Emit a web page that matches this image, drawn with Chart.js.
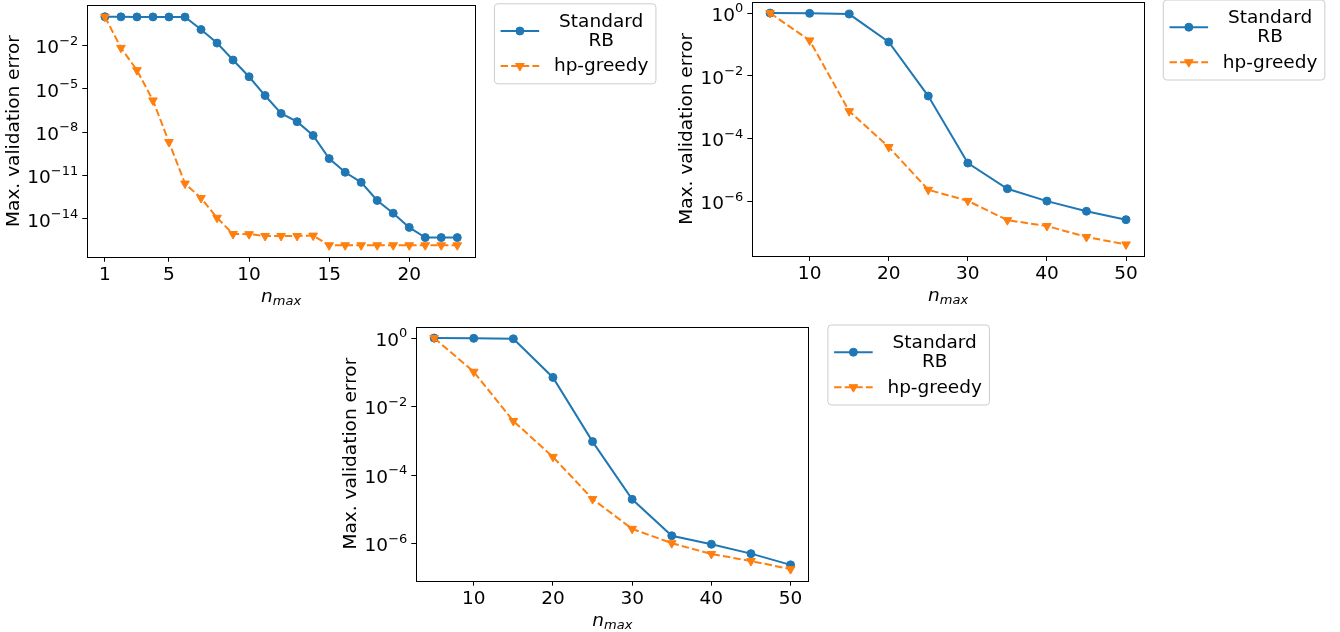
<!DOCTYPE html>
<html lang="en">
<head>
<meta charset="UTF-8">
<title>Max. validation error vs n_max</title>
<script src="https://cdn.jsdelivr.net/npm/chart.js"></script>
<style>
  body { margin: 0; background: #fff; width: 1340px; height: 632px; position: relative; overflow: hidden; }
  .panel { position: absolute; }
  .panel canvas { display: block; }
</style>
</head>
<body>
<div class="panel" style="left:0px;top:0px"><canvas id="chartA" width="670" height="315"></canvas></div>
<div class="panel" style="left:670px;top:0px"><canvas id="chartB" width="670" height="315"></canvas></div>
<div class="panel" style="left:330px;top:315px"><canvas id="chartC" width="670" height="317"></canvas></div>
<script>
// ---- data ----
const seriesLabels = ['Standard\nRB', 'hp-greedy'];
const yTitle = 'Max. validation error';
const xTitleBase = 'n';
const xTitleSub = 'max';

// panel A: n_max = 1..23
const nmaxA = [1, 2, 3, 4, 5, 6, 7, 8, 9, 10, 11, 12, 13, 14, 15, 16, 17, 18, 19, 20, 21, 22, 23];
const rbA = [1.0, 0.98, 0.97, 0.97, 0.96, 0.95, 0.13, 0.015, 1.0e-3, 7e-5, 3.5e-6, 2e-7, 5.4e-8, 6e-9,
             1.5e-10, 1.7e-11, 3.4e-12, 1.9e-13, 2.5e-14, 2.6e-15, 5.1e-16, 5.1e-16, 5.1e-16];
const hpA = [1.0, 7e-3, 2e-4, 1.6e-6, 2.1e-9, 2.8e-12, 2.8e-13, 1.2e-14, 9e-16, 8.8e-16, 6.6e-16, 6.6e-16,
             6.6e-16, 7e-16, 1.5e-16, 1.5e-16, 1.5e-16, 1.5e-16, 1.5e-16, 1.5e-16, 1.5e-16, 1.5e-16, 1.5e-16];
const xTicksA = [1, 5, 10, 15, 20];
const yExpA = [-2, -5, -8, -11, -14];

// panels B and C: n_max = 5..50
const nmaxB = [5, 10, 15, 20, 25, 30, 35, 40, 45, 50];
const rbB = [1.0, 0.98, 0.93, 0.12, 2.3e-3, 1.7e-5, 2.6e-6, 1.05e-6, 5e-7, 2.7e-7];
const hpB = [1.0, 0.135, 7.6e-4, 5.5e-5, 2.4e-6, 1.07e-6, 2.6e-7, 1.7e-7, 7.6e-8, 4.4e-8];
const rbC = [1.0, 0.98, 0.95, 0.071, 9.5e-4, 1.96e-5, 1.7e-6, 9.6e-7, 5.1e-7, 2.4e-7];
const hpC = [1.0, 0.104, 3.8e-3, 3.4e-4, 2e-5, 2.7e-6, 1.03e-6, 5e-7, 3.1e-7, 1.8e-7];
const xTicksB = [10, 20, 30, 40, 50];
const yExpB = [0, -2, -4, -6];

// ---- style ----
const BLUE = '#1f77b4';
const ORANGE = '#ff7f0e';
const FONT_PX = 18.5;
const SUP_PX = 13;
const FAMILY = '"DejaVu Sans"';

function fontOf(px, italic) {
    return (italic ? 'italic ' : '') + px + 'px ' + FAMILY;
}

// draws frame, tick labels, axis titles and the legend
const axisDecor = {
    id: 'axisDecor',
    afterDraw(chart) {
        const cfg = chart.options.plugins.axisDecor;
        const { ctx, chartArea: a, scales } = chart;
        ctx.save();
        ctx.strokeStyle = '#000';
        ctx.lineWidth = 1;
        ctx.setLineDash([]);
        ctx.strokeRect(Math.round(a.left) + 0.5, Math.round(a.top) + 0.5,
            Math.round(a.right) - Math.round(a.left), Math.round(a.bottom) - Math.round(a.top));

        ctx.fillStyle = '#000';
        ctx.textBaseline = 'alphabetic';

        // x tick labels
        ctx.font = fontOf(FONT_PX);
        ctx.textAlign = 'center';
        cfg.xTicks.forEach(v => {
            ctx.fillText(String(v), scales.x.getPixelForValue(v), a.bottom + 23.3);
        });

        // y tick labels as 10^e
        ctx.textAlign = 'left';
        let maxW = 0;
        cfg.yExps.forEach(e => {
            const y = scales.y.getPixelForValue(Math.pow(10, e));
            const sup = e < 0 ? '\u2212' + (-e) : String(e);
            ctx.font = fontOf(SUP_PX);
            const wSup = ctx.measureText(sup).width;
            ctx.font = fontOf(FONT_PX);
            const wBase = ctx.measureText('10').width;
            const right = a.left - 9;
            ctx.fillText('10', right - wSup - wBase, y + 7.6);
            ctx.font = fontOf(SUP_PX);
            ctx.fillText(sup, right - wSup, y - 0.8);
            maxW = Math.max(maxW, wBase + wSup);
        });

        // y title
        ctx.save();
        ctx.font = fontOf(FONT_PX);
        ctx.translate(a.left - 9 - maxW - 13, (a.top + a.bottom) / 2);
        ctx.rotate(-Math.PI / 2);
        ctx.textAlign = 'center';
        ctx.textBaseline = 'middle';
        ctx.fillText(yTitle, 0, 0);
        ctx.restore();

        // x title: italic n with subscript
        ctx.font = fontOf(FONT_PX, true);
        const wn = ctx.measureText(xTitleBase).width;
        ctx.font = fontOf(SUP_PX, true);
        const wm = ctx.measureText(xTitleSub).width;
        const x0 = (a.left + a.right) / 2 - (wn + wm) / 2;
        const yb = a.bottom + 45;
        ctx.font = fontOf(FONT_PX, true);
        ctx.fillText(xTitleBase, x0, yb);
        ctx.font = fontOf(SUP_PX, true);
        ctx.fillText(xTitleSub, x0 + wn, yb + 3.3);

        // legend
        const datasets = chart.data.datasets;
        ctx.font = fontOf(FONT_PX);
        const lineH = 19;
        let textW = 0;
        datasets.forEach(ds => ds.label.split('\n').forEach(s => {
            textW = Math.max(textW, ctx.measureText(s).width);
        }));
        const bx = a.right + 19, by = a.top - 2;
        const bw = 60 + textW + 7;
        let cursor = by + 8.7;
        const rows = datasets.map(ds => {
            const lines = ds.label.split('\n');
            const h = lines.length * lineH;
            const row = { ds, lines, cy: cursor + h / 2 };
            cursor += h + 6.5;
            return row;
        });
        const bh = cursor - 6.5 + 7.8 - by;
        ctx.beginPath();
        ctx.roundRect(bx + 0.5, by + 0.5, bw, bh, 3.5);
        ctx.fillStyle = 'rgba(255,255,255,0.8)';
        ctx.fill();
        ctx.strokeStyle = '#cccccc';
        ctx.lineWidth = 1;
        ctx.stroke();

        rows.forEach(r => {
            const ds = r.ds;
            ctx.strokeStyle = ds.borderColor;
            ctx.lineWidth = ds.borderWidth;
            ctx.setLineDash(ds.borderDash || []);
            ctx.beginPath();
            ctx.moveTo(bx + 6.7, r.cy);
            ctx.lineTo(bx + 45.3, r.cy);
            ctx.stroke();
            ctx.setLineDash([]);
            ctx.fillStyle = ds.pointBackgroundColor;
            ctx.strokeStyle = ds.pointBorderColor;
            ctx.lineWidth = ds.pointBorderWidth;
            Chart.helpers.drawPoint(ctx, {
                pointStyle: ds.pointStyle, rotation: ds.pointRotation || 0,
                radius: ds.pointRadius, borderWidth: ds.pointBorderWidth
            }, bx + 26, r.cy);

            ctx.fillStyle = '#000';
            ctx.font = fontOf(FONT_PX);
            ctx.textAlign = 'center';
            const first = r.cy + 5.3 - lineH * (r.lines.length - 1) / 2;
            r.lines.forEach((s, k) => {
                ctx.fillText(s, bx + 60 + textW / 2, first + k * lineH);
            });
        });
        ctx.restore();
    }
};

// matplotlib-like 5% padding of the data range in log space
function logRange(a, b) {
    const all = a.concat(b).map(v => Math.log10(v));
    const lo = Math.min(...all), hi = Math.max(...all);
    const pad = (hi - lo) * 0.05;
    return { min: Math.pow(10, lo - pad), max: Math.pow(10, hi + pad) };
}

function makePanel(id, nmax, rb, hp, xTicks, yExps, area) {
    const canvas = document.getElementById(id);
    const W = canvas.width, H = canvas.height;
    const xPad = (nmax[nmax.length - 1] - nmax[0]) * 0.05;
    const yr = logRange(rb, hp);
    const tickGrid = { drawOnChartArea: false, drawTicks: true, tickLength: 5, color: '#000', lineWidth: 1 };

    new Chart(canvas.getContext('2d'), {
        type: 'line',
        data: {
            datasets: [{
                label: seriesLabels[0],
                data: nmax.map((n, i) => ({ x: n, y: rb[i] })),
                borderColor: BLUE, backgroundColor: BLUE, borderWidth: 2,
                pointStyle: 'circle', pointRadius: 4,
                pointBackgroundColor: BLUE, pointBorderColor: BLUE, pointBorderWidth: 1,
                tension: 0, order: 1
            }, {
                label: seriesLabels[1],
                data: nmax.map((n, i) => ({ x: n, y: hp[i] })),
                borderColor: ORANGE, backgroundColor: ORANGE, borderWidth: 2,
                borderDash: [7.4, 3.2],
                pointStyle: 'triangle', pointRotation: 180, pointRadius: 5,
                pointBackgroundColor: ORANGE, pointBorderColor: ORANGE, pointBorderWidth: 1,
                tension: 0, order: 0
            }]
        },
        options: {
            responsive: false,
            animation: false,
            devicePixelRatio: 1,
            events: [],
            layout: { autoPadding: false, padding: { left: 0, top: area.top, right: W - area.right, bottom: 0 } },
            plugins: {
                legend: { display: false },
                tooltip: { enabled: false },
                axisDecor: { xTicks: xTicks, yExps: yExps }
            },
            scales: {
                x: {
                    type: 'linear',
                    min: nmax[0] - xPad, max: nmax[nmax.length - 1] + xPad,
                    bounds: 'data',
                    afterBuildTicks: s => { s.ticks = xTicks.map(v => ({ value: v })); },
                    afterFit: s => { s.height = H - area.bottom; },
                    ticks: { display: false },
                    grid: tickGrid,
                    border: { display: false }
                },
                y: {
                    type: 'logarithmic',
                    min: yr.min, max: yr.max,
                    bounds: 'data',
                    afterBuildTicks: s => { s.ticks = yExps.map(e => ({ value: Math.pow(10, e) })); },
                    afterFit: s => { s.width = area.left; },
                    ticks: { display: false },
                    grid: tickGrid,
                    border: { display: false }
                }
            }
        },
        plugins: [axisDecor]
    });
}

makePanel('chartA', nmaxA, rbA, hpA, xTicksA, yExpA, { left: 87.3, top: 5.3, right: 474.9, bottom: 256.7 });
makePanel('chartB', nmaxB, rbB, hpB, xTicksB, yExpB, { left: 82.3, top: 1.5, right: 473.8, bottom: 256 });
makePanel('chartC', nmaxB, rbC, hpC, xTicksB, yExpB, { left: 86.3, top: 11.5, right: 478.4, bottom: 265.7 });
</script>
</body>
</html>
